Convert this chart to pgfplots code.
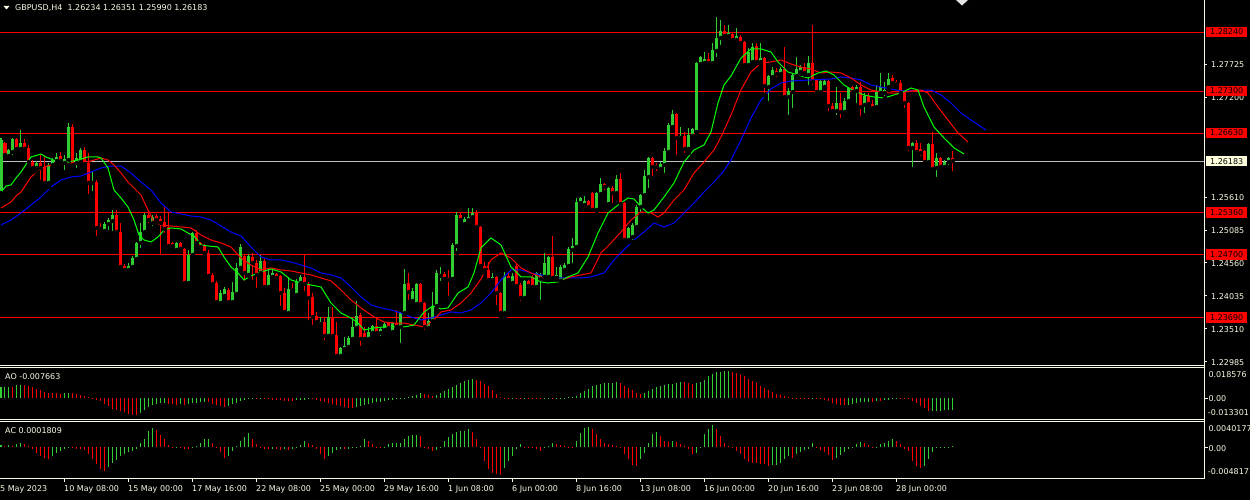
\documentclass[border=0pt]{standalone}
\usepackage{fontspec}
\setmainfont{DejaVu Sans}
\usepackage{pgfplots}
\usepackage{pgfplotstable}
\pgfplotsset{compat=1.18}
\definecolor{fg}{RGB}{250,250,228}
\definecolor{cgreen}{RGB}{50,205,50}
\definecolor{cred}{RGB}{255,0,0}
\definecolor{magreen}{RGB}{0,255,0}
\definecolor{mablue}{RGB}{0,0,255}
\definecolor{bidline}{RGB}{192,192,192}
\definecolor{bidbox}{RGB}{255,255,222}
\newcommand{\mtf}{\fontsize{8}{9.6}\selectfont}

\pgfplotstableread{
i o h l c
0 1.25675 1.26552 1.25627 1.26520
1 1.26472 1.26488 1.26249 1.26281
2 1.26265 1.26377 1.26233 1.26361
3 1.26329 1.26552 1.26249 1.26536
4 1.26536 1.26552 1.26313 1.26377
5 1.26377 1.26679 1.26313 1.26472
6 1.26472 1.26536 1.26313 1.26377
7 1.26393 1.26440 1.26121 1.26169
8 1.26169 1.26201 1.26010 1.26074
9 1.26074 1.26185 1.26010 1.26153
10 1.26153 1.26281 1.25851 1.26074
11 1.26090 1.26249 1.25819 1.25835
12 1.25835 1.26153 1.25771 1.26121
13 1.26121 1.26233 1.26074 1.26201
14 1.26185 1.26313 1.26121 1.26249
15 1.26265 1.26329 1.26153 1.26185
16 1.26153 1.26281 1.26010 1.26217
17 1.26201 1.26790 1.26121 1.26726
18 1.26726 1.26774 1.26074 1.26121
19 1.26153 1.26313 1.26042 1.26233
20 1.26169 1.26393 1.26137 1.26361
21 1.26361 1.26409 1.26105 1.26137
22 1.26153 1.26313 1.25627 1.25835
23 1.25835 1.26010 1.25675 1.25851
24 1.25851 1.25883 1.24959 1.25118
25 1.25134 1.25197 1.25038 1.25102
26 1.25070 1.25213 1.25054 1.25181
27 1.25181 1.25277 1.25054 1.25245
28 1.25229 1.25405 1.25038 1.25325
29 1.25325 1.25405 1.25038 1.25054
30 1.25054 1.25197 1.24481 1.24497
31 1.24512 1.24544 1.24417 1.24449
32 1.24449 1.24560 1.24417 1.24512
33 1.24497 1.24672 1.24481 1.24640
34 1.24624 1.24895 1.24608 1.24879
35 1.24879 1.25197 1.24768 1.25054
36 1.25054 1.25357 1.25022 1.25325
37 1.25325 1.25357 1.25165 1.25245
38 1.25197 1.25325 1.25118 1.25293
39 1.25309 1.25341 1.25213 1.25245
40 1.25261 1.25309 1.24656 1.25197
41 1.25213 1.25468 1.25006 1.25102
42 1.25134 1.25357 1.24768 1.24831
43 1.24879 1.24895 1.24768 1.24831
44 1.24768 1.24895 1.24752 1.24879
45 1.24879 1.24895 1.24736 1.24784
46 1.24784 1.24800 1.24178 1.24242
47 1.24242 1.24768 1.24210 1.24688
48 1.24688 1.25054 1.24656 1.25038
49 1.25038 1.25086 1.24847 1.24879
50 1.24879 1.24895 1.24800 1.24815
51 1.24831 1.24863 1.24688 1.24720
52 1.24720 1.24768 1.24338 1.24354
53 1.24370 1.24401 1.24194 1.24226
54 1.24242 1.24274 1.23923 1.23939
55 1.23923 1.24130 1.23907 1.24082
56 1.24034 1.24178 1.24019 1.24146
57 1.24130 1.24162 1.23907 1.23939
58 1.23939 1.24258 1.23923 1.24098
59 1.24066 1.24560 1.24050 1.24481
60 1.24481 1.24863 1.24449 1.24815
61 1.24672 1.24704 1.24242 1.24401
62 1.24370 1.24704 1.24354 1.24672
63 1.24656 1.24720 1.24258 1.24560
64 1.24560 1.24608 1.24130 1.24370
65 1.24401 1.24688 1.24370 1.24592
66 1.24592 1.24624 1.24146 1.24178
67 1.24178 1.24481 1.24162 1.24370
68 1.24338 1.24481 1.24290 1.24401
69 1.24385 1.24401 1.24258 1.24322
70 1.24354 1.24370 1.23844 1.24082
71 1.24082 1.24162 1.23732 1.23780
72 1.23764 1.24338 1.23748 1.24146
73 1.24162 1.24242 1.24082 1.24130
74 1.24050 1.24306 1.24034 1.24274
75 1.24242 1.24370 1.24210 1.24338
76 1.24338 1.24704 1.24082 1.24226
77 1.24226 1.24258 1.23620 1.24003
78 1.24019 1.24082 1.23541 1.23700
79 1.23716 1.23780 1.23604 1.23620
80 1.23588 1.23700 1.23541 1.23620
81 1.23620 1.23684 1.23302 1.23398
82 1.23398 1.23860 1.23382 1.23700
83 1.23700 1.23860 1.23366 1.23398
84 1.23413 1.23620 1.23063 1.23079
85 1.23079 1.23223 1.23063 1.23207
86 1.23191 1.23382 1.23127 1.23239
87 1.23223 1.23398 1.23207 1.23366
88 1.23350 1.23684 1.23334 1.23541
89 1.23525 1.23955 1.23493 1.23716
90 1.23732 1.23764 1.23207 1.23350
91 1.23445 1.23541 1.23334 1.23350
92 1.23350 1.23541 1.23334 1.23461
93 1.23445 1.23572 1.23429 1.23556
94 1.23556 1.23700 1.23382 1.23445
95 1.23445 1.23541 1.23366 1.23509
96 1.23493 1.23620 1.23461 1.23588
97 1.23604 1.23620 1.23493 1.23525
98 1.23461 1.23620 1.23445 1.23604
99 1.23604 1.23812 1.23525 1.23541
100 1.23541 1.23780 1.23254 1.23764
101 1.23764 1.24465 1.23748 1.24226
102 1.24242 1.24401 1.23939 1.24098
103 1.23955 1.24162 1.23939 1.24114
104 1.23907 1.24242 1.23891 1.24226
105 1.24226 1.24242 1.23891 1.23907
106 1.23923 1.23939 1.23461 1.23541
107 1.23525 1.23764 1.23509 1.23636
108 1.23636 1.24098 1.23620 1.23875
109 1.23875 1.24449 1.23860 1.24401
110 1.24354 1.24497 1.24242 1.24385
111 1.24385 1.24417 1.24258 1.24306
112 1.24322 1.24449 1.24003 1.24290
113 1.24306 1.24879 1.24290 1.24847
114 1.24831 1.25373 1.24720 1.25325
115 1.25325 1.25357 1.25197 1.25245
116 1.25181 1.25293 1.25165 1.25261
117 1.25245 1.25436 1.25213 1.25293
118 1.25293 1.25436 1.25277 1.25357
119 1.25357 1.25405 1.25118 1.25134
120 1.25134 1.25150 1.24481 1.24512
121 1.24512 1.24576 1.24401 1.24449
122 1.24449 1.24576 1.24258 1.24290
123 1.24290 1.24401 1.24258 1.24338
124 1.24338 1.24354 1.23860 1.24082
125 1.24082 1.24098 1.23700 1.23764
126 1.23764 1.24417 1.23716 1.24354
127 1.24354 1.24401 1.24258 1.24290
128 1.24242 1.24401 1.24178 1.24354
129 1.24512 1.24560 1.24178 1.24194
130 1.24210 1.24242 1.23923 1.24003
131 1.24003 1.24290 1.23971 1.24274
132 1.24274 1.24290 1.24162 1.24194
133 1.24338 1.24370 1.24146 1.24178
134 1.24178 1.24417 1.24162 1.24401
135 1.24306 1.24401 1.23939 1.24370
136 1.24338 1.24720 1.24322 1.24560
137 1.24338 1.24672 1.24306 1.24656
138 1.24656 1.24990 1.24306 1.24322
139 1.24322 1.24497 1.24290 1.24370
140 1.24274 1.24528 1.24258 1.24497
141 1.24449 1.24560 1.24401 1.24528
142 1.24512 1.24815 1.24497 1.24784
143 1.24768 1.24959 1.24528 1.24831
144 1.24815 1.25596 1.24800 1.25532
145 1.25516 1.25611 1.25484 1.25596
146 1.25484 1.25627 1.25452 1.25548
147 1.25548 1.25564 1.25405 1.25452
148 1.25675 1.25691 1.25325 1.25405
149 1.25405 1.25691 1.25389 1.25675
150 1.25659 1.25914 1.25643 1.25819
151 1.25819 1.25835 1.25691 1.25771
152 1.25500 1.25771 1.25484 1.25755
153 1.25755 1.25787 1.25484 1.25675
154 1.25675 1.25962 1.25659 1.25899
155 1.25899 1.25994 1.25484 1.25500
156 1.25516 1.25532 1.24879 1.24927
157 1.24927 1.25134 1.24895 1.25118
158 1.24974 1.25197 1.24895 1.25165
159 1.25134 1.25484 1.25118 1.25452
160 1.25452 1.25659 1.25325 1.25643
161 1.25643 1.26042 1.25611 1.25946
162 1.25930 1.26249 1.25723 1.26233
163 1.26233 1.26249 1.25914 1.26090
164 1.26121 1.26153 1.25994 1.26090
165 1.26058 1.26169 1.25994 1.26137
166 1.26121 1.26393 1.25962 1.26345
167 1.26329 1.26790 1.26313 1.26758
168 1.26726 1.26998 1.26710 1.26934
169 1.26934 1.26950 1.26249 1.26552
170 1.26552 1.26726 1.26520 1.26584
171 1.26584 1.26647 1.26281 1.26377
172 1.26377 1.26710 1.26313 1.26599
173 1.26584 1.26710 1.26568 1.26694
174 1.26647 1.27762 1.26631 1.27746
175 1.27730 1.27858 1.27714 1.27842
176 1.27746 1.27922 1.27730 1.27810
177 1.27810 1.27906 1.27682 1.27746
178 1.27746 1.28065 1.27714 1.27954
179 1.27938 1.28479 1.27810 1.28145
180 1.28145 1.28431 1.28002 1.28256
181 1.28256 1.28351 1.28129 1.28176
182 1.28176 1.28351 1.28161 1.28224
183 1.28209 1.28224 1.28081 1.28113
184 1.28113 1.28304 1.28065 1.28176
185 1.28161 1.28193 1.28002 1.28065
186 1.28081 1.28097 1.27682 1.27714
187 1.27714 1.27986 1.27698 1.27922
188 1.27762 1.28065 1.27746 1.28002
189 1.28018 1.28065 1.27746 1.27762
190 1.27762 1.28065 1.27714 1.27826
191 1.27826 1.27842 1.27237 1.27380
192 1.27364 1.27555 1.27109 1.27539
193 1.27523 1.27682 1.27507 1.27635
194 1.27619 1.27666 1.27491 1.27571
195 1.27571 1.27682 1.27523 1.27650
196 1.27650 1.28002 1.27157 1.27205
197 1.27205 1.27348 1.26886 1.27300
198 1.27284 1.27571 1.26998 1.27555
199 1.27539 1.27842 1.27523 1.27650
200 1.27603 1.27714 1.27571 1.27682
201 1.27682 1.27746 1.27555 1.27587
202 1.27555 1.27858 1.27364 1.27746
203 1.27746 1.28351 1.27364 1.27444
204 1.27476 1.27491 1.27268 1.27284
205 1.27284 1.27476 1.27237 1.27460
206 1.27364 1.27476 1.27348 1.27460
207 1.27460 1.27476 1.26950 1.27061
208 1.27061 1.27109 1.26950 1.26982
209 1.26982 1.27364 1.26886 1.27109
210 1.27109 1.27268 1.26838 1.26966
211 1.26966 1.27189 1.26950 1.27141
212 1.27141 1.27364 1.27109 1.27348
213 1.27364 1.27380 1.27268 1.27284
214 1.27300 1.27396 1.27077 1.27364
215 1.27364 1.27444 1.26870 1.27045
216 1.27077 1.27268 1.26918 1.27221
217 1.27221 1.27268 1.27077 1.27093
218 1.27093 1.27157 1.26998 1.27029
219 1.27045 1.27396 1.27029 1.27284
220 1.27268 1.27587 1.27252 1.27364
221 1.27268 1.27444 1.27189 1.27316
222 1.27364 1.27587 1.27316 1.27491
223 1.27507 1.27555 1.27412 1.27428
224 1.27444 1.27476 1.27396 1.27412
225 1.27428 1.27476 1.27237 1.27268
226 1.27268 1.27284 1.26998 1.27109
227 1.27109 1.27125 1.26313 1.26393
228 1.26393 1.26488 1.26058 1.26472
229 1.26472 1.26520 1.26313 1.26329
230 1.26377 1.26472 1.26233 1.26313
231 1.26345 1.26361 1.26153 1.26169
232 1.26169 1.26472 1.26153 1.26456
233 1.26456 1.26647 1.25994 1.26058
234 1.26074 1.26313 1.25899 1.26233
235 1.26233 1.26249 1.26074 1.26090
236 1.26090 1.26201 1.26058 1.26169
237 1.26169 1.26249 1.26090 1.26233
238 1.26234 1.26351 1.25990 1.26183
}\candles

\begin{document}
\begin{tikzpicture}[x=1pt,y=1pt]
\path[use as bounding box] (0pt,0pt) rectangle (1250pt,500pt);
\fill[black] (0pt,0pt) rectangle (1250pt,500pt);
\clip (0pt,0pt) rectangle (1250pt,500pt);

% ================= MAIN PRICE PANEL =================
\begin{axis}[at={(0pt,135pt)}, anchor=south west, scale only axis,
  width=1204pt, height=365pt,
  xmin=-0.25, xmax=300.75, ymin=1.22935, ymax=1.28750,
  hide axis, clip=false]
% horizontal levels
\addplot[cred, line width=1pt, forget plot] coordinates {(-0.25,1.28240) (300.75,1.28240)};
\addplot[cred, line width=1pt, forget plot] coordinates {(-0.25,1.27300) (300.75,1.27300)};
\addplot[cred, line width=1pt, forget plot] coordinates {(-0.25,1.26630) (300.75,1.26630)};
\addplot[cred, line width=1pt, forget plot] coordinates {(-0.25,1.25360) (300.75,1.25360)};
\addplot[cred, line width=1pt, forget plot] coordinates {(-0.25,1.24700) (300.75,1.24700)};
\addplot[cred, line width=1pt, forget plot] coordinates {(-0.25,1.23690) (300.75,1.23690)};
\addplot[bidline, line width=1pt, forget plot] coordinates {(-0.25,1.26183) (300.75,1.26183)};

% candle wicks
\addplot[only marks, mark=none, forget plot,
  restrict expr to domain={\thisrow{c}-\thisrow{o}}{0:1},
  error bars/.cd, y dir=plus, y explicit, error mark=none,
  error bar style={line width=1pt, solid, draw=cgreen}]
  table[x=i, y=l, y error plus expr={\thisrow{h}-\thisrow{l}}] {\candles};
\addplot[only marks, mark=none, forget plot,
  restrict expr to domain={\thisrow{o}-\thisrow{c}}{0:1},
  error bars/.cd, y dir=plus, y explicit, error mark=none,
  error bar style={line width=1pt, solid, draw=cred}]
  table[x=i, y=l, y error plus expr={\thisrow{h}-\thisrow{l}}] {\candles};
% candle bodies
\addplot[only marks, mark=none, forget plot,
  restrict expr to domain={\thisrow{c}-\thisrow{o}}{0:1},
  error bars/.cd, y dir=plus, y explicit, error mark=none,
  error bar style={line width=3pt, solid, draw=cgreen}]
  table[x=i, y=o, y error plus expr={\thisrow{c}-\thisrow{o}}] {\candles};
\addplot[only marks, mark=none, forget plot,
  restrict expr to domain={\thisrow{o}-\thisrow{c}}{0:1},
  error bars/.cd, y dir=plus, y explicit, error mark=none,
  error bar style={line width=3pt, solid, draw=cred}]
  table[x=i, y=c, y error plus expr={\thisrow{o}-\thisrow{c}}] {\candles};

% moving averages
\addplot[mablue, line width=1pt, mark=none] coordinates {
(0,1.25165)(2.5,1.25245)(5,1.25357)(7.5,1.25484)(10,1.25611)(12.5,1.25771)(15,1.25883)(17.5,1.25930)(20,1.25946)(22.5,1.26010)(25,1.26074)(27.5,1.26105)(30,1.26105)(32.5,1.25994)(35,1.25851)(37.5,1.25723)(40,1.25516)(42.5,1.25373)(45,1.25341)(47.5,1.25309)(50,1.25293)(52.5,1.25245)(55,1.25150)(57.5,1.25054)(60,1.24990)(62.5,1.24815)(65,1.24656)(67.5,1.24608)(70,1.24608)(72.5,1.24576)(75,1.24528)(77.5,1.24481)(80,1.24401)(82.5,1.24370)(85,1.24322)(87.5,1.24178)(90,1.24019)(92.5,1.23891)(95,1.23844)(97.5,1.23812)(100,1.23764)(102.5,1.23700)(105,1.23652)(107.5,1.23684)(110,1.23732)(112.5,1.23780)(115,1.23764)(117.5,1.23812)(120,1.23923)(122.5,1.24082)(125,1.24290)(127.5,1.24449)(130,1.24449)(132.5,1.24401)(135,1.24370)(137.5,1.24338)(140,1.24322)(145,1.24322)(147.5,1.24338)(150.75,1.24401)(153.25,1.24608)(155.75,1.24768)(158.25,1.24927)(160.75,1.25054)(163.25,1.25197)(165.75,1.25134)(168.25,1.25197)(170.75,1.25357)(173.25,1.25516)(175.75,1.25691)(178.25,1.25851)(180.5,1.26010)(182.5,1.26201)(185,1.26520)(187.5,1.26870)(190,1.27157)(192.5,1.27332)(195,1.27428)(197.5,1.27460)(202.5,1.27476)(207.5,1.27491)(210,1.27523)(212.5,1.27507)(215,1.27476)(217.5,1.27396)(220,1.27364)(222.5,1.27332)(225,1.27300)(232.5,1.27316)(235,1.27237)(237.5,1.27109)(240,1.26950)(242.5,1.26838)(246.25,1.26679)};
\addplot[cred, line width=1pt, mark=none] coordinates {
(0,1.25436)(2.5,1.25532)(3.75,1.25627)(5,1.25691)(7.5,1.25930)(10,1.26074)(12.5,1.26121)(15,1.26137)(20,1.26153)(22.5,1.26185)(25,1.26233)(26.75,1.26201)(28.25,1.26121)(30,1.25994)(31.75,1.25851)(33.25,1.25755)(35,1.25643)(36.75,1.25405)(38.25,1.25213)(40,1.25165)(42.5,1.25150)(45,1.25134)(47.5,1.25118)(50,1.25006)(52.5,1.24927)(55,1.24879)(57.5,1.24815)(60,1.24640)(62.5,1.24528)(65,1.24449)(67.5,1.24481)(70,1.24449)(72.5,1.24433)(75,1.24401)(77.5,1.24370)(80,1.24322)(82.5,1.24274)(85,1.24130)(87.5,1.23971)(90,1.23844)(93.25,1.23700)(95.75,1.23620)(98.25,1.23604)(100.75,1.23604)(103.25,1.23572)(105.75,1.23541)(108.25,1.23652)(110,1.23780)(112.5,1.23812)(115,1.23923)(117.5,1.24082)(120,1.24306)(122.5,1.24608)(125,1.24720)(127.5,1.24640)(130,1.24481)(132.5,1.24401)(135,1.24338)(137.5,1.24322)(140,1.24290)(142.5,1.24338)(145,1.24370)(147.5,1.24401)(150,1.24720)(152.5,1.24879)(155,1.25054)(157.5,1.25245)(160,1.25373)(162.5,1.25357)(164.25,1.25293)(165.75,1.25357)(168.25,1.25564)(170.75,1.25723)(173.25,1.25994)(175.75,1.26169)(178.25,1.26361)(180,1.26568)(182.5,1.26918)(185,1.27316)(187.5,1.27603)(190,1.27746)(192.5,1.27762)(195,1.27794)(197.5,1.27730)(200,1.27682)(202.5,1.27650)(205,1.27587)(207.5,1.27603)(210,1.27587)(212.5,1.27507)(215,1.27396)(217.5,1.27316)(220,1.27284)(222.5,1.27268)(225,1.27268)(227.5,1.27300)(230,1.27316)(231.75,1.27268)(234.25,1.27045)(236.75,1.26838)(239.25,1.26631)(241.75,1.26488)};
\addplot[magreen, line width=1pt, mark=none] coordinates {
(0,1.25691)(1.25,1.25787)(2.5,1.25803)(3.75,1.25914)(5,1.26010)(7.5,1.26249)(9.25,1.26281)(10,1.26297)(11.25,1.26249)(12.5,1.26217)(13.75,1.26185)(16.75,1.26169)(19.25,1.26201)(21.75,1.26249)(24.25,1.26249)(25,1.26233)(26.75,1.26074)(28.25,1.25723)(30,1.25596)(31.75,1.25452)(33.25,1.25245)(34.5,1.25006)(35.75,1.24927)(37.5,1.24895)(39.25,1.24974)(40.75,1.25086)(42.5,1.25118)(45,1.25102)(46.75,1.25038)(48.25,1.24990)(50,1.24847)(51.75,1.24831)(54.25,1.24815)(55.75,1.24656)(57.5,1.24497)(59.25,1.24401)(60.75,1.24290)(62.5,1.24354)(65,1.24417)(67.5,1.24465)(70,1.24417)(72.5,1.24290)(75,1.24242)(77.5,1.24210)(80,1.24178)(82.5,1.23923)(85,1.23764)(87.5,1.23684)(89.25,1.23604)(90.75,1.23493)(93.25,1.23525)(95.75,1.23541)(98.25,1.23541)(100.75,1.23541)(103.25,1.23572)(105.75,1.23780)(108,1.23875)(110,1.23828)(111.75,1.23844)(114.25,1.24082)(116.75,1.24178)(118.25,1.24401)(120,1.24800)(122.5,1.24959)(125,1.24847)(127.5,1.24497)(130,1.24338)(132.5,1.24338)(135,1.24258)(136.75,1.24242)(139.25,1.24258)(141.75,1.24338)(144.25,1.24401)(146.75,1.24656)(149.25,1.25038)(151.75,1.25357)(154.25,1.25484)(156.75,1.25596)(158.25,1.25580)(160,1.25452)(161.75,1.25357)(163.25,1.25405)(165.75,1.25611)(168.25,1.25835)(170.75,1.26169)(173.25,1.26361)(175.75,1.26440)(177.5,1.26647)(179.25,1.27109)(180.75,1.27396)(182.5,1.27539)(185,1.27826)(187.5,1.27970)(190,1.27970)(192.5,1.27922)(194.25,1.27762)(196.75,1.27603)(199.25,1.27555)(201.75,1.27507)(204.25,1.27587)(206.25,1.27619)(208.25,1.27555)(210.75,1.27396)(213.25,1.27300)(215.75,1.27237)(218.25,1.27205)(220.75,1.27189)(223.25,1.27237)(225.5,1.27284)(227.5,1.27348)(229.25,1.27316)(230.75,1.27045)(233.25,1.26726)(235.75,1.26552)(238.25,1.26393)(240.75,1.26297)};

% right price scale: ticks and labels
\foreach \v in {1.27725,1.27200,1.25610,1.25085,1.24560,1.24035,1.23510,1.22985}{
  \edef\temp{\noexpand\draw[fg, line width=1pt] (axis cs:300.75,\v) -- ++(3pt,0pt);
  \noexpand\node[anchor=base west, inner sep=0pt, text=fg, font=\noexpand\mtf, xshift=7pt, yshift=-3.6pt] at (axis cs:300.75,\v) {\v};}
  \temp
}
% level boxes
\foreach \v in {1.28240,1.27300,1.26630,1.25360,1.24700,1.23690}{
  \edef\temp{\noexpand\node[anchor=west, fill=cred, text=black, inner sep=0pt, minimum width=41pt, minimum height=10.6pt, font=\noexpand\mtf, xshift=2pt] at (axis cs:300.75,\v) {\v};}
  \temp
}
\node[anchor=west, fill=bidbox, text=black, inner sep=0pt, minimum width=41pt, minimum height=10.6pt, font=\mtf, xshift=2pt] at (axis cs:300.75,1.26183) {1.26183};
\end{axis}

% ================= AO PANEL =================
\begin{axis}[at={(0pt,80.7pt)}, anchor=south west, scale only axis,
  width=1204pt, height=51.3pt,
  xmin=-0.25, xmax=300.75, ymin=-13.301e-3, ymax=18.576e-3,
  hide axis, clip=false]
\addplot[ycomb, draw=cgreen, line width=1pt, mark=none] coordinates {
(0,6.62e-3)(1,6.83e-3)(2,7.04e-3)(4,7.87e-3)(5,8.28e-3)(16,2.90e-3)(17,3.11e-3)(35,-9.32e-3)(36,-7.45e-3)(37,-5.80e-3)(38,-4.55e-3)(39,-3.73e-3)(40,-3.31e-3)(41,-3.11e-3)(45,-3.93e-3)(47,-3.73e-3)(48,-3.31e-3)(49,-2.90e-3)(50,-2.48e-3)(51,-2.28e-3)(57,-4.76e-3)(58,-3.93e-3)(59,-2.90e-3)(60,-1.86e-3)(61,-1.04e-3)(62,-0.62e-3)(63,-0.41e-3)(65,-0.41e-3)(74,-1.45e-3)(75,-1.24e-3)(76,-1.04e-3)(77,-0.83e-3)(89,-5.38e-3)(90,-4.76e-3)(91,-4.14e-3)(92,-3.52e-3)(93,-3.11e-3)(94,-2.69e-3)(95,-2.28e-3)(96,-1.86e-3)(97,-1.45e-3)(98,-1.04e-3)(99,-0.62e-3)(100,-0.21e-3)(101,0.21e-3)(102,0.52e-3)(103,1.04e-3)(104,2.07e-3)(105,3.11e-3)(109,2.07e-3)(110,3.11e-3)(111,4.14e-3)(112,5.38e-3)(113,6.83e-3)(114,8.28e-3)(115,9.32e-3)(116,10.35e-3)(117,11.39e-3)(118,11.80e-3)(128,0.14e-3)(131,0.08e-3)(136,-0.21e-3)(137,-0.10e-3)(139,-0.12e-3)(140,-0.06e-3)(141,0.10e-3)(142,0.31e-3)(143,0.62e-3)(144,1.45e-3)(145,3.11e-3)(146,4.55e-3)(147,5.80e-3)(148,7.25e-3)(149,8.28e-3)(150,8.90e-3)(151,9.11e-3)(152,9.32e-3)(153,9.52e-3)(154,9.73e-3)(161,3.11e-3)(162,4.55e-3)(163,5.59e-3)(164,6.83e-3)(165,7.66e-3)(166,8.28e-3)(167,8.69e-3)(168,8.90e-3)(169,9.32e-3)(170,9.94e-3)(174,9.11e-3)(175,9.94e-3)(176,11.39e-3)(177,13.46e-3)(178,14.90e-3)(179,16.15e-3)(180,16.35e-3)(181,16.46e-3)(182,16.56e-3)(203,0.04e-3)(212,-4.14e-3)(213,-3.52e-3)(214,-3.11e-3)(215,-2.69e-3)(216,-2.48e-3)(217,-2.28e-3)(219,-1.86e-3)(221,-1.45e-3)(222,-1.04e-3)(223,-0.21e-3)(224,-0.10e-3)(233,-8.07e-3)(234,-7.97e-3)(235,-7.87e-3)(236,-7.82e-3)(237,-7.76e-3)(238,-7.663e-3)};
\addplot[ycomb, draw=cred, line width=1pt, mark=none] coordinates {
(3,6.83e-3)(6,8.07e-3)(7,7.66e-3)(8,6.62e-3)(9,5.59e-3)(10,4.76e-3)(11,3.73e-3)(12,3.11e-3)(13,2.90e-3)(14,2.79e-3)(15,2.69e-3)(18,2.90e-3)(19,2.48e-3)(20,2.07e-3)(21,1.45e-3)(22,0.62e-3)(23,0.21e-3)(24,-1.04e-3)(25,-2.07e-3)(26,-3.52e-3)(27,-5.18e-3)(28,-6.62e-3)(29,-7.66e-3)(30,-8.28e-3)(31,-8.90e-3)(32,-9.73e-3)(33,-10.35e-3)(34,-10.76e-3)(42,-3.52e-3)(43,-3.93e-3)(44,-4.14e-3)(46,-4.14e-3)(52,-2.69e-3)(53,-3.52e-3)(54,-4.35e-3)(55,-4.97e-3)(56,-5.38e-3)(64,-0.62e-3)(66,-0.62e-3)(67,-0.83e-3)(68,-1.04e-3)(69,-1.24e-3)(70,-1.45e-3)(71,-1.66e-3)(72,-1.76e-3)(73,-1.86e-3)(78,-0.93e-3)(79,-1.04e-3)(80,-1.66e-3)(81,-2.48e-3)(82,-3.11e-3)(83,-3.73e-3)(84,-4.35e-3)(85,-4.97e-3)(86,-5.59e-3)(87,-6.00e-3)(88,-6.21e-3)(106,2.48e-3)(107,1.66e-3)(108,1.45e-3)(119,11.39e-3)(120,10.35e-3)(121,8.69e-3)(122,7.25e-3)(123,4.97e-3)(124,2.69e-3)(125,0.62e-3)(126,0.21e-3)(127,0.10e-3)(129,0.10e-3)(130,0.06e-3)(132,-0.10e-3)(133,-0.21e-3)(134,-0.31e-3)(135,-0.62e-3)(138,-0.14e-3)(155,9.32e-3)(156,7.66e-3)(157,6.21e-3)(158,4.76e-3)(159,3.11e-3)(160,2.69e-3)(171,9.73e-3)(172,9.32e-3)(173,8.90e-3)(183,16.15e-3)(184,15.53e-3)(185,14.49e-3)(186,13.46e-3)(187,12.01e-3)(188,10.35e-3)(189,9.32e-3)(190,7.66e-3)(191,6.21e-3)(192,5.18e-3)(193,3.52e-3)(194,2.69e-3)(195,1.66e-3)(196,1.04e-3)(197,0.41e-3)(198,0.14e-3)(199,0.08e-3)(200,0.06e-3)(201,0.02e-3)(202,-0.04e-3)(204,-0.06e-3)(205,-0.41e-3)(206,-1.04e-3)(207,-2.07e-3)(208,-3.11e-3)(209,-3.73e-3)(210,-4.14e-3)(211,-4.55e-3)(218,-2.48e-3)(220,-2.07e-3)(225,-0.21e-3)(226,-0.41e-3)(227,-0.83e-3)(228,-2.07e-3)(229,-3.11e-3)(230,-5.18e-3)(231,-6.21e-3)(232,-8.28e-3)};
\end{axis}

% ================= AC PANEL =================
\begin{axis}[at={(0pt,21.7pt)}, anchor=south west, scale only axis,
  width=1204pt, height=56.6pt,
  xmin=-0.25, xmax=300.75, ymin=-4.8171e-3, ymax=4.0177e-3,
  hide axis, clip=false]
\addplot[ycomb, draw=cgreen, line width=1pt, mark=none] coordinates {
(0,0.42e-3)(2,0.31e-3)(4,0.52e-3)(5,0.73e-3)(13,-1.35e-3)(14,-0.88e-3)(15,-0.57e-3)(16,-0.26e-3)(17,-0.10e-3)(27,-3.12e-3)(28,-2.50e-3)(29,-1.92e-3)(30,-1.40e-3)(31,-1.04e-3)(32,-0.78e-3)(33,-0.62e-3)(34,-0.31e-3)(35,0.73e-3)(36,1.35e-3)(37,2.60e-3)(38,3.02e-3)(44,0.05e-3)(48,-0.10e-3)(49,0.21e-3)(50,0.73e-3)(51,1.25e-3)(52,1.30e-3)(57,-1.35e-3)(58,-0.57e-3)(59,0.21e-3)(60,0.99e-3)(61,1.66e-3)(62,2.18e-3)(68,-0.21e-3)(71,-0.31e-3)(73,-0.21e-3)(74,0.10e-3)(75,0.31e-3)(76,0.99e-3)(82,-1.35e-3)(83,-0.83e-3)(84,-0.42e-3)(85,-0.21e-3)(87,-0.21e-3)(88,-0.10e-3)(89,-0.05e-3)(90,0.21e-3)(91,1.25e-3)(96,0.10e-3)(97,0.47e-3)(98,0.62e-3)(99,0.65e-3)(100,0.68e-3)(101,1.25e-3)(102,1.77e-3)(103,1.87e-3)(104,1.92e-3)(109,-0.42e-3)(110,0.10e-3)(111,0.99e-3)(112,1.66e-3)(113,2.03e-3)(114,2.39e-3)(115,2.55e-3)(116,2.60e-3)(117,2.81e-3)(126,-3.17e-3)(127,-2.13e-3)(128,-1.35e-3)(129,-0.31e-3)(130,0.47e-3)(136,-0.05e-3)(137,0.21e-3)(138,0.73e-3)(144,0.99e-3)(145,2.29e-3)(146,3.07e-3)(147,3.12e-3)(160,-1.77e-3)(161,-0.83e-3)(162,0.73e-3)(163,2.03e-3)(164,2.39e-3)(168,0.99e-3)(174,-0.83e-3)(175,-0.05e-3)(176,2.03e-3)(177,2.81e-3)(178,3.43e-3)(193,-2.81e-3)(194,-2.76e-3)(195,-2.39e-3)(196,-1.87e-3)(197,-1.35e-3)(199,-1.09e-3)(200,-0.73e-3)(201,-0.42e-3)(202,-0.21e-3)(203,0.73e-3)(209,-1.61e-3)(210,-1.25e-3)(211,-0.73e-3)(212,-0.31e-3)(213,-0.05e-3)(214,0.47e-3)(215,0.83e-3)(219,0.13e-3)(220,0.47e-3)(221,0.73e-3)(222,0.99e-3)(223,1.35e-3)(231,-2.91e-3)(232,-1.87e-3)(233,-0.73e-3)(234,-0.05e-3)(235,0.03e-3)(236,0.05e-3)(237,0.10e-3)(238,0.1809e-3)};
\addplot[ycomb, draw=cred, line width=1pt, mark=none] coordinates {
(1,0.26e-3)(3,0.21e-3)(6,0.52e-3)(7,0.16e-3)(8,-0.31e-3)(9,-0.83e-3)(10,-1.30e-3)(11,-1.66e-3)(12,-1.77e-3)(18,-0.16e-3)(19,-0.21e-3)(20,-0.26e-3)(21,-0.42e-3)(22,-1.04e-3)(23,-1.82e-3)(24,-2.60e-3)(25,-3.38e-3)(26,-3.64e-3)(39,2.76e-3)(40,1.98e-3)(41,1.25e-3)(42,0.31e-3)(43,-0.05e-3)(45,-0.16e-3)(46,-0.26e-3)(47,-0.31e-3)(53,0.73e-3)(54,-0.05e-3)(55,-0.73e-3)(56,-1.61e-3)(63,1.25e-3)(64,0.47e-3)(65,-0.05e-3)(66,-0.21e-3)(67,-0.31e-3)(69,-0.31e-3)(70,-0.42e-3)(72,-0.36e-3)(77,0.73e-3)(78,0.31e-3)(79,-0.31e-3)(80,-1.09e-3)(81,-1.87e-3)(86,-0.31e-3)(92,0.99e-3)(93,0.47e-3)(94,0.10e-3)(95,-0.05e-3)(105,1.77e-3)(106,0.10e-3)(107,-0.31e-3)(108,-0.57e-3)(118,2.39e-3)(119,1.25e-3)(120,-0.16e-3)(121,-2.13e-3)(122,-3.33e-3)(123,-3.95e-3)(124,-4.21e-3)(125,-4.37e-3)(131,0.10e-3)(132,-0.05e-3)(133,-0.08e-3)(134,-0.21e-3)(135,-0.57e-3)(139,0.47e-3)(140,0.31e-3)(141,0.21e-3)(142,0.10e-3)(143,-0.10e-3)(148,2.91e-3)(149,2.03e-3)(150,1.25e-3)(151,0.73e-3)(152,0.47e-3)(153,0.31e-3)(154,0.26e-3)(155,-0.05e-3)(156,-1.09e-3)(157,-1.87e-3)(158,-2.81e-3)(159,-2.91e-3)(165,1.77e-3)(166,0.99e-3)(167,0.83e-3)(169,0.83e-3)(170,0.47e-3)(171,0.21e-3)(172,-0.21e-3)(173,-1.09e-3)(179,2.91e-3)(180,1.77e-3)(181,0.73e-3)(182,0.21e-3)(183,-0.05e-3)(184,-0.57e-3)(185,-1.09e-3)(186,-1.87e-3)(187,-2.29e-3)(188,-2.39e-3)(189,-2.50e-3)(190,-2.55e-3)(191,-2.65e-3)(192,-2.91e-3)(198,-1.61e-3)(204,-0.05e-3)(205,-0.42e-3)(206,-0.73e-3)(207,-1.25e-3)(208,-1.98e-3)(216,0.73e-3)(217,0.31e-3)(218,0.10e-3)(224,0.99e-3)(225,0.47e-3)(226,-0.21e-3)(227,-0.57e-3)(228,-2.13e-3)(229,-2.91e-3)(230,-3.17e-3)};
\end{axis}

% ================= FRAME, SEPARATORS, TEXT =================
\draw[fg, line width=1pt] (1204.5pt,500pt) -- (1204.5pt,21.5pt);
\draw[fg, line width=1pt] (0pt,134.5pt) -- (1204.5pt,134.5pt);
\draw[fg, line width=1pt] (0pt,132.5pt) -- (1204.5pt,132.5pt);
\draw[fg, line width=1pt] (0pt,80.5pt) -- (1204.5pt,80.5pt);
\draw[fg, line width=1pt] (0pt,78.5pt) -- (1204.5pt,78.5pt);
\draw[fg, line width=1pt] (0pt,21.5pt) -- (1204.5pt,21.5pt);
% indicator window ticks
\draw[fg, line width=1pt] (1204.5pt,101.5pt) -- (1207.5pt,101.5pt);
\draw[fg, line width=1pt] (1204.5pt,52.5pt) -- (1207.5pt,52.5pt);

% title
\fill[fg] (3.5pt,494pt) -- (9.5pt,494pt) -- (6.5pt,490.5pt) -- cycle;
\node[anchor=base west, inner sep=0pt, text=fg, font=\mtf] at (15pt,489.5pt) {GBPUSD,H4\ \ 1.26234 1.26351 1.25990 1.26183};
% chart shift marker
\fill[white!80!gray] (956pt,500pt) -- (968pt,500pt) -- (962pt,494.5pt) -- cycle;

% indicator labels
\node[anchor=base west, inner sep=0pt, text=fg, font=\mtf] at (5pt,120pt) {AO -0.007663};
\node[anchor=base west, inner sep=0pt, text=fg, font=\mtf] at (5pt,66pt) {AC 0.0001809};
\node[anchor=base west, inner sep=0pt, text=fg, font=\mtf] at (1208.3pt,122pt) {0.018576};
\node[anchor=base west, inner sep=0pt, text=fg, font=\mtf] at (1208.3pt,98pt) {0.00};
\node[anchor=base west, inner sep=0pt, text=fg, font=\mtf] at (1207.7pt,84.5pt) {-0.013301};
\node[anchor=base west, inner sep=0pt, text=fg, font=\mtf] at (1208.3pt,68pt) {0.0040177};
\node[anchor=base west, inner sep=0pt, text=fg, font=\mtf] at (1208.3pt,48.7pt) {0.00};
\node[anchor=base west, inner sep=0pt, text=fg, font=\mtf] at (1207.7pt,25pt) {-0.0048171};

% time axis
\foreach \x in {64,128,...,896}{\draw[fg, line width=1pt] (\x pt+0.5pt,21.5pt) -- (\x pt+0.5pt,17.5pt);}
\node[anchor=base west, inner sep=0pt, text=fg, font=\mtf] at (0pt,8.5pt) {5 May 2023};
\node[anchor=base west, inner sep=0pt, text=fg, font=\mtf] at (64pt,8.5pt) {10 May 08:00};
\node[anchor=base west, inner sep=0pt, text=fg, font=\mtf] at (128pt,8.5pt) {15 May 00:00};
\node[anchor=base west, inner sep=0pt, text=fg, font=\mtf] at (192pt,8.5pt) {17 May 16:00};
\node[anchor=base west, inner sep=0pt, text=fg, font=\mtf] at (256pt,8.5pt) {22 May 08:00};
\node[anchor=base west, inner sep=0pt, text=fg, font=\mtf] at (320pt,8.5pt) {25 May 00:00};
\node[anchor=base west, inner sep=0pt, text=fg, font=\mtf] at (384pt,8.5pt) {29 May 16:00};
\node[anchor=base west, inner sep=0pt, text=fg, font=\mtf] at (448pt,8.5pt) {1 Jun 08:00};
\node[anchor=base west, inner sep=0pt, text=fg, font=\mtf] at (512pt,8.5pt) {6 Jun 00:00};
\node[anchor=base west, inner sep=0pt, text=fg, font=\mtf] at (576pt,8.5pt) {8 Jun 16:00};
\node[anchor=base west, inner sep=0pt, text=fg, font=\mtf] at (640pt,8.5pt) {13 Jun 08:00};
\node[anchor=base west, inner sep=0pt, text=fg, font=\mtf] at (704pt,8.5pt) {16 Jun 00:00};
\node[anchor=base west, inner sep=0pt, text=fg, font=\mtf] at (768pt,8.5pt) {20 Jun 16:00};
\node[anchor=base west, inner sep=0pt, text=fg, font=\mtf] at (832pt,8.5pt) {23 Jun 08:00};
\node[anchor=base west, inner sep=0pt, text=fg, font=\mtf] at (896pt,8.5pt) {28 Jun 00:00};
\end{tikzpicture}
\end{document}
